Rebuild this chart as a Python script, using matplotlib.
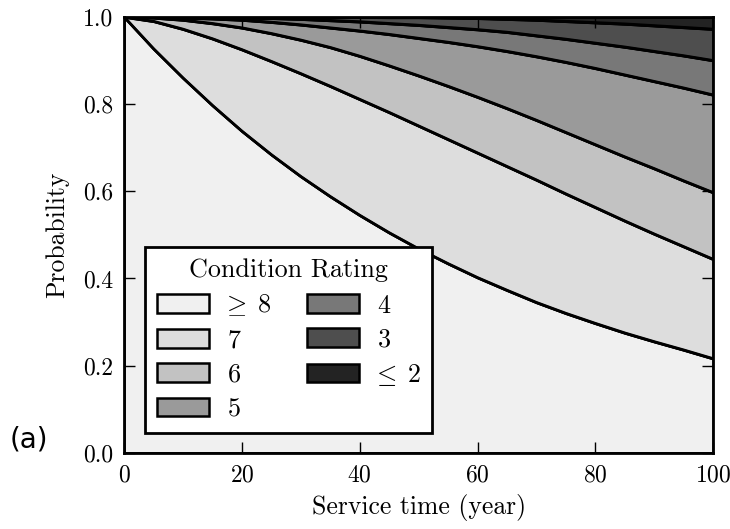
import matplotlib
matplotlib.use('Agg')
import matplotlib.pyplot as plt

# service time (year)
years = [0, 5, 10, 15, 20, 25, 30, 35, 40, 45, 50, 55, 60, 65, 70, 75, 80, 85, 90, 95, 100]

# cumulative probability boundaries
p_ge8 = [1.000, 0.927, 0.860, 0.797, 0.738, 0.684, 0.634, 0.588, 0.545, 0.505, 0.468,
         0.434, 0.402, 0.373, 0.345, 0.320, 0.297, 0.275, 0.255, 0.236, 0.216]
p_ge7 = [1.000, 0.990, 0.972, 0.950, 0.925, 0.898, 0.870, 0.841, 0.811, 0.781, 0.750,
         0.719, 0.688, 0.657, 0.626, 0.594, 0.563, 0.532, 0.502, 0.473, 0.444]
p_ge6 = [1.000, 0.998, 0.993, 0.985, 0.975, 0.962, 0.947, 0.930, 0.910, 0.888, 0.865,
         0.841, 0.816, 0.790, 0.763, 0.735, 0.707, 0.679, 0.652, 0.624, 0.597]
p_ge5 = [1.000, 0.9995, 0.998, 0.996, 0.993, 0.988, 0.982, 0.975, 0.968, 0.960, 0.951,
         0.942, 0.932, 0.921, 0.909, 0.896, 0.882, 0.867, 0.852, 0.837, 0.821]
p_ge4 = [1.000, 1.000, 1.000, 0.999, 0.998, 0.997, 0.995, 0.992, 0.989, 0.985, 0.981,
         0.976, 0.971, 0.965, 0.957, 0.949, 0.940, 0.931, 0.921, 0.911, 0.900]
p_ge3 = [1.000, 1.000, 1.000, 1.000, 1.000, 1.000, 1.000, 1.000, 0.9995, 0.999, 0.999,
         0.998, 0.997, 0.995, 0.993, 0.990, 0.987, 0.984, 0.980, 0.976, 0.972]

labels = [r'$\!\!\geq\;8$', '7', '6', '5', '4', '3', r'$\!\!\leq\;2$']
colors = ['#f0f0f0', '#dddddd', '#c2c2c2', '#9a9a9a', '#787878', '#4e4e4e', '#232323']

plt.rcParams['font.family'] = 'serif'
plt.rcParams['font.serif'] = ['cmr10']
plt.rcParams['mathtext.fontset'] = 'cm'
plt.rcParams['axes.unicode_minus'] = False
plt.rcParams['axes.formatter.use_mathtext'] = True

fig = plt.figure(figsize=(7.3, 5.29), dpi=100)
ax = fig.add_axes([0.170, 0.144, 0.807, 0.824])

bounds = [[0] * len(years), p_ge8, p_ge7, p_ge6, p_ge5, p_ge4, p_ge3, [1] * len(years)]
for i in range(7):
    ax.fill_between(years, bounds[i], bounds[i + 1], facecolor=colors[i],
                    edgecolor='black', linewidth=1.8, label=labels[i])
for b in bounds[1:-1]:
    ax.plot(years, b, color='black', linewidth=2)

ax.set_xlim(0, 100)
ax.set_ylim(0, 1)
ax.set_xticks([0, 20, 40, 60, 80, 100])
ax.set_yticks([0.0, 0.2, 0.4, 0.6, 0.8, 1.0])
ax.set_yticklabels(['0.0', '0.2', '0.4', '0.6', '0.8', '1.0'])
ax.tick_params(direction='in', length=8, width=1, top=True, right=True,
               labelsize=17, pad=8)
for s in ax.spines.values():
    s.set_linewidth(2)

ax.set_xlabel('Service time (year)', fontsize=18.5, labelpad=6)
ax.set_ylabel('Probability', fontsize=18.5, labelpad=10)

leg = ax.legend(title='Condition Rating', ncol=2, loc='lower left',
                bbox_to_anchor=(0.036, 0.046), borderaxespad=0,
                fontsize=18.8, title_fontsize=18.8,
                fancybox=False, framealpha=1, edgecolor='black',
                handlelength=2.0, handleheight=0.72, handletextpad=0.7,
                columnspacing=1.4, labelspacing=0.4, borderpad=0.45)
leg.get_frame().set_linewidth(2)

fig.text(0.013, 0.155, '(a)', fontsize=20, family='DejaVu Sans')

fig.savefig('out.png', dpi=100)
